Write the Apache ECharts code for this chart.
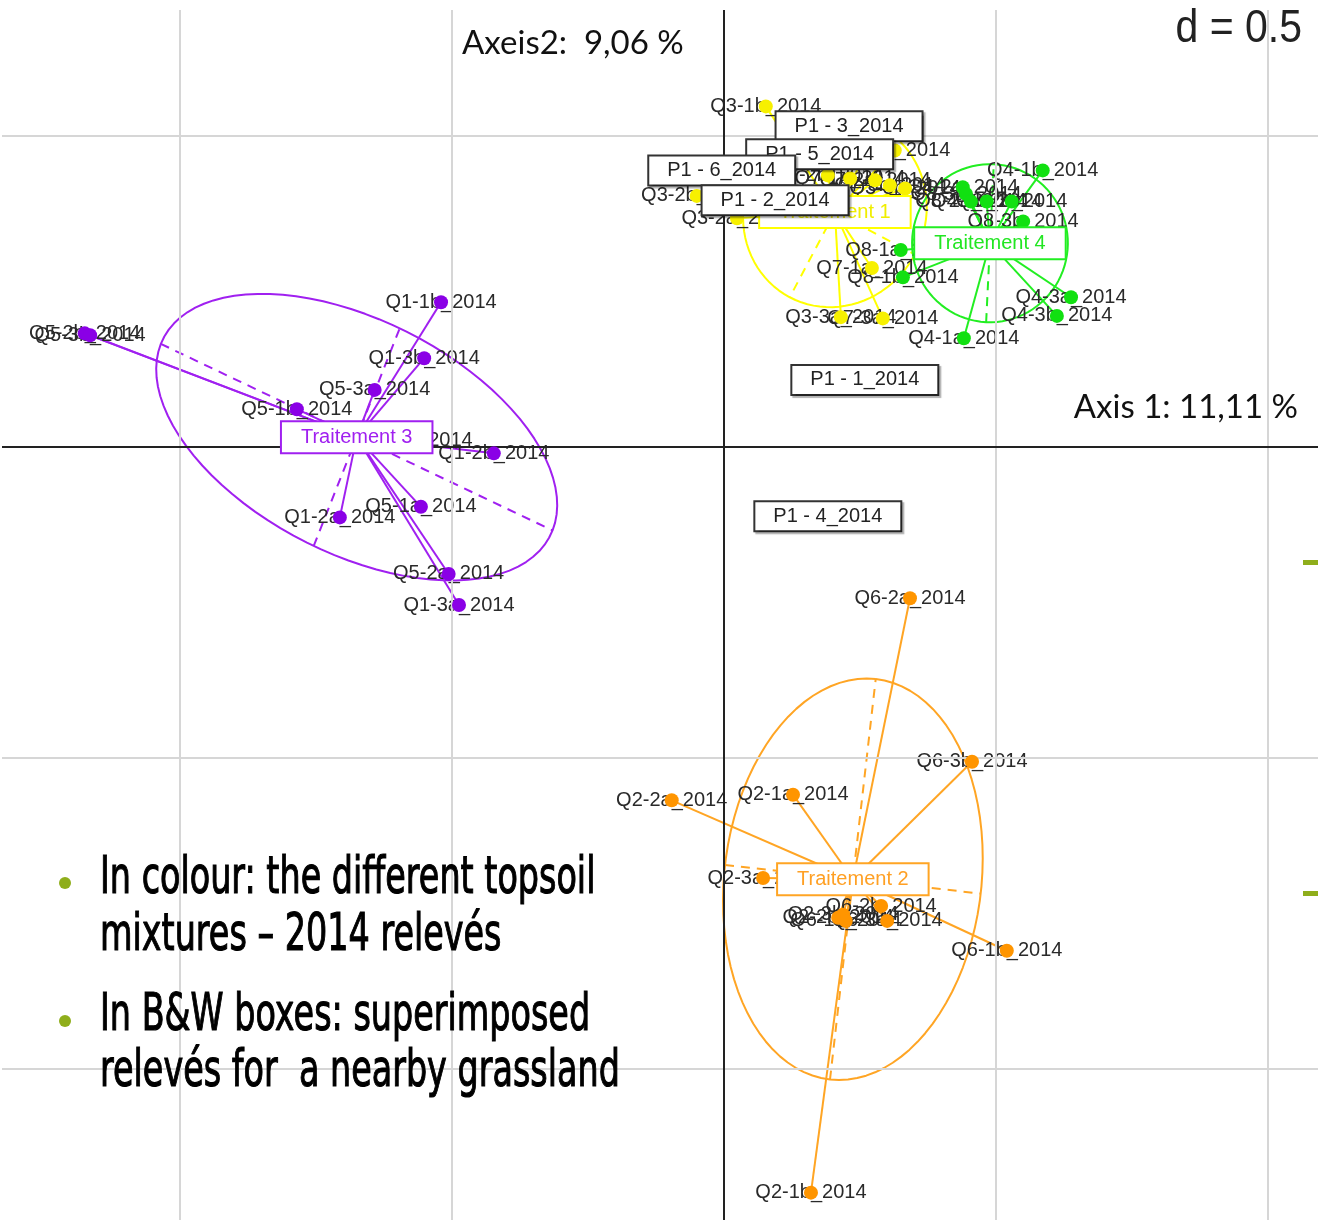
<!DOCTYPE html>
<html>
<head>
<meta charset="utf-8">
<script src="https://cdn.jsdelivr.net/npm/echarts@6/dist/echarts.min.js"></script>
<style>
  html, body { margin: 0; padding: 0; background: #fff; }
  #chart { width: 1318px; height: 1220px; }
</style>
</head>
<body>
<div id="chart"></div>
<script>
// visible window of the factorial plane (grid step d = 0.5)
const xRange = [-1.327, 1.092]
const yRange = [-1.243, 0.703]
const gridX = [-1, -0.5, 0.5, 1]
const gridY = [0.5, -0.5, -1]

// Traitement 1 (yellow)
const t1Names = ['Q3-1b_2014', 'Q3-2b_2014', 'Q3-2a_2014', 'Q7-1a_2014', 'Q3-3a_2014', 'Q7-3a_2014',
  'Q3-1a_2014', 'Q7-2a_2014', 'Q7-1b_2014', 'Q3-3b_2014', 'Q7-2b_2014', 'Q7-3b_2014']
const t1X = [0.077, -0.050, 0.024, 0.272, 0.215, 0.292, 0.314, 0.278, 0.232, 0.333, 0.191, 0.305]
const t1Y = [0.548, 0.404, 0.368, 0.288, 0.209, 0.207, 0.477, 0.429, 0.432, 0.416, 0.437, 0.421]
const t1Center = [0.204, 0.378]
const t1Axes = [[-0.083, -0.137], [0.147, -0.068]]

// Traitement 2 (orange)
const t2Names = ['Q6-2a_2014', 'Q6-3b_2014', 'Q2-2a_2014', 'Q2-1a_2014', 'Q2-3a_2014', 'Q6-1b_2014',
  'Q2-1b_2014', 'Q2-2b_2014', 'Q2-3b_2014', 'Q6-1a_2014', 'Q6-2b_2014', 'Q6-3a_2014']
const t2X = [0.342, 0.456, -0.096, 0.127, 0.072, 0.520, 0.160, 0.210, 0.219, 0.224, 0.289, 0.300]
const t2Y = [-0.243, -0.506, -0.568, -0.559, -0.693, -0.810, -1.199, -0.757, -0.752, -0.762, -0.738, -0.762]
const t2Center = [0.237, -0.695]
const t2Axes = [[0.042, 0.322], [0.235, -0.023]]

// Traitement 3 (purple)
const t3Names = ['Q1-1b_2014', 'Q5-2b_2014', 'Q5-3b_2014', 'Q1-3b_2014', 'Q5-3a_2014', 'Q5-1b_2014',
  'Q1-1a_2014', 'Q1-2b_2014', 'Q1-2a_2014', 'Q5-1a_2014', 'Q5-2a_2014', 'Q1-3a_2014']
const t3X = [-0.520, -1.175, -1.165, -0.551, -0.642, -0.785, -0.564, -0.423, -0.706, -0.557, -0.506, -0.487]
const t3Y = [0.233, 0.183, 0.180, 0.143, 0.092, 0.061, 0.010, -0.010, -0.113, -0.096, -0.204, -0.254]
const t3Center = [-0.675, 0.016]
const t3Axes = [[0.360, -0.150], [0.079, 0.175]]

// Traitement 4 (green)
const t4Names = ['Q4-1b_2014', 'Q8-1a_2014', 'Q8-1b_2014', 'Q4-3a_2014', 'Q4-3b_2014', 'Q4-1a_2014',
  'Q4-2a_2014', 'Q8-3a_2014', 'Q8-2a_2014', 'Q4-2b_2014', 'Q8-2b_2014', 'Q8-3b_2014']
const t4X = [0.586, 0.325, 0.329, 0.638, 0.612, 0.441, 0.439, 0.445, 0.454, 0.483, 0.529, 0.550]
const t4Y = [0.445, 0.317, 0.273, 0.241, 0.211, 0.175, 0.418, 0.407, 0.395, 0.395, 0.395, 0.363]
const t4Center = [0.489, 0.328]
const t4Axes = [[0.007, 0.127], [0.143, -0.006]]

// supplementary grassland releves (B&W boxes), drawn in this order
const p1Names = ['P1 - 3_2014', 'P1 - 5_2014', 'P1 - 6_2014', 'P1 - 2_2014', 'P1 - 1_2014', 'P1 - 4_2014']
const p1X = [0.230, 0.176, -0.004, 0.094, 0.259, 0.191]
const p1Y = [0.516, 0.471, 0.445, 0.397, 0.108, -0.111]

const groups = [
  { name: 'Traitement 1', names: t1Names, xs: t1X, ys: t1Y, center: t1Center, axes: t1Axes, color: '#ffff00', dot: '#f7f000', text: '#f0ee00' },
  { name: 'Traitement 2', names: t2Names, xs: t2X, ys: t2Y, center: t2Center, axes: t2Axes, color: '#ffa524', dot: '#ff9500', text: '#ffa024' },
  { name: 'Traitement 3', names: t3Names, xs: t3X, ys: t3Y, center: t3Center, axes: t3Axes, color: '#a020f0', dot: '#8a00e6', text: '#a020f0' },
  { name: 'Traitement 4', names: t4Names, xs: t4X, ys: t4Y, center: t4Center, axes: t4Axes, color: '#22ee22', dot: '#11e011', text: '#22e622' }
]

const labelFont = '"Liberation Sans", Arial, sans-serif'
const clear = 'rgba(0,0,0,0)'

const chart = echarts.init(document.getElementById('chart'))

const series = []

// grid lines and the two axes through the origin
series.push({
  type: 'line',
  data: [],
  silent: true,
  z: 1,
  markLine: {
    silent: true,
    symbol: 'none',
    label: { show: false },
    animation: false,
    data: [
      ...gridX.map(v => ({ xAxis: v, lineStyle: { color: '#d6d6d6', width: 2, type: 'solid' } })),
      ...gridY.map(v => ({ yAxis: v, lineStyle: { color: '#d6d6d6', width: 2, type: 'solid' } })),
      { xAxis: 0, lineStyle: { color: '#222', width: 2, type: 'solid' } },
      { yAxis: 0, lineStyle: { color: '#222', width: 2, type: 'solid' } }
    ]
  }
})

groups.forEach(g => {
  const [cx, cy] = g.center
  const [a, b] = g.axes

  // ellipse outline from its centre and semi-axes
  const ring = []
  for (let i = 0; i <= 90; i++) {
    const t = (i / 90) * Math.PI * 2
    ring.push([cx + a[0] * Math.cos(t) + b[0] * Math.sin(t), cy + a[1] * Math.cos(t) + b[1] * Math.sin(t)])
  }
  series.push({
    type: 'line',
    data: ring,
    showSymbol: false,
    symbol: 'none',
    silent: true,
    z: 2,
    lineStyle: { color: g.color, width: 2 }
  })

  // dashed ellipse axes
  series.push({
    type: 'lines',
    coordinateSystem: 'cartesian2d',
    silent: true,
    z: 2,
    lineStyle: { color: g.color, width: 2, type: [9, 7], opacity: 1 },
    data: [
      { coords: [[cx - a[0], cy - a[1]], [cx + a[0], cy + a[1]]] },
      { coords: [[cx - b[0], cy - b[1]], [cx + b[0], cy + b[1]]] }
    ]
  })

  // spokes from class centre to each releve
  series.push({
    type: 'lines',
    coordinateSystem: 'cartesian2d',
    silent: true,
    z: 3,
    lineStyle: { color: g.color, width: 2, opacity: 1 },
    data: g.xs.map((x, i) => ({ coords: [[cx, cy], [x, g.ys[i]]] }))
  })

  // releve labels (centred on the point)
  series.push({
    type: 'scatter',
    silent: true,
    z: 4,
    symbolSize: 1,
    itemStyle: { color: clear, opacity: 1 },
    data: g.xs.map((x, i) => ({ name: g.names[i], value: [x, g.ys[i]] })),
    label: {
      show: true,
      position: 'inside',
      formatter: p => p.name,
      color: '#2a2a2a',
      fontSize: 20,
      fontFamily: labelFont
    },
    labelLayout: { hideOverlap: false }
  })

  // releve points
  series.push({
    type: 'scatter',
    silent: true,
    z: 5,
    symbolSize: 14,
    itemStyle: { color: g.dot, opacity: 1 },
    data: g.xs.map((x, i) => [x, g.ys[i]])
  })
})

// class label boxes
groups.forEach(g => {
  series.push({
    type: 'scatter',
    silent: true,
    z: 6,
    symbolSize: 1,
    itemStyle: { color: clear, opacity: 1 },
    data: [{ name: g.name, value: g.center }],
    label: {
      show: true,
      position: 'inside',
      formatter: p => p.name,
      color: g.text,
      fontSize: 20,
      fontFamily: labelFont,
      backgroundColor: '#fff',
      borderColor: g.color,
      borderWidth: 2,
      padding: [5, 19, 5, 19]
    }
  })
})

// B&W boxes for the nearby grassland
p1Names.forEach((n, i) => {
  series.push({
    type: 'scatter',
    silent: true,
    z: 7 + i,
    symbolSize: 1,
    itemStyle: { color: clear, opacity: 1 },
    data: [{ name: n, value: [p1X[i], p1Y[i]] }],
    label: {
      show: true,
      position: 'inside',
      formatter: p => p.name,
      color: '#222',
      fontSize: 20,
      fontFamily: labelFont,
      backgroundColor: '#fff',
      borderColor: '#333',
      borderWidth: 2,
      padding: [4, 18, 4, 18],
      shadowColor: 'rgba(0,0,0,0.3)',
      shadowBlur: 1,
      shadowOffsetX: 2,
      shadowOffsetY: 2
    }
  })
})

const bulletFont = '"DejaVu Sans", sans-serif'
const bulletLines = [
  ['In colour: the different topsoil', 880],
  ['mixtures \u2013 2014 relev\u00e9s', 937],
  ['In B&W boxes: superimposed', 1017],
  ['relev\u00e9s for  a nearby grassland', 1073]
]

const option = {
  animation: false,
  backgroundColor: '#fff',
  grid: { left: 2, right: 0, top: 10, bottom: 0 },
  xAxis: { type: 'value', min: xRange[0], max: xRange[1], show: false, splitLine: { show: false } },
  yAxis: { type: 'value', min: yRange[0], max: yRange[1], show: false, splitLine: { show: false } },
  graphic: [
    { type: 'text', x: 462, y: 43, z: 100, style: { text: 'Axeis2:  9,06 %', fontSize: 33, fontFamily: 'Lato', fill: '#111', verticalAlign: 'middle' } },
    { type: 'text', x: 1298, y: 407, z: 100, style: { text: 'Axis 1: 11,11 %', fontSize: 33, fontFamily: 'Lato', fill: '#111', align: 'right', verticalAlign: 'middle' } },
    { type: 'text', x: 1302, y: 33, z: 100, scaleY: 1.12, originY: 33, style: { text: 'd = 0.5', fontSize: 41, fontFamily: 'Liberation Sans', fill: '#222', align: 'right', verticalAlign: 'middle' } },
    ...bulletLines.map(([t, y]) => ({
      type: 'text', x: 100, y: y, z: 100, scaleX: 0.655,
      style: { text: t, fontSize: 51, fontFamily: bulletFont, fill: '#000', stroke: '#000', lineWidth: 1.2, verticalAlign: 'middle' }
    })),
    { type: 'circle', z: 100, shape: { cx: 65, cy: 883, r: 6 }, style: { fill: '#8fae1b' } },
    { type: 'circle', z: 100, shape: { cx: 65, cy: 1021, r: 6 }, style: { fill: '#8fae1b' } },
    { type: 'rect', z: 100, shape: { x: 1303, y: 560, width: 15, height: 5 }, style: { fill: '#8fae1b' } },
    { type: 'rect', z: 100, shape: { x: 1303, y: 891, width: 15, height: 5 }, style: { fill: '#8fae1b' } }
  ],
  series: series
}

chart.setOption(option)
</script>
</body>
</html>
